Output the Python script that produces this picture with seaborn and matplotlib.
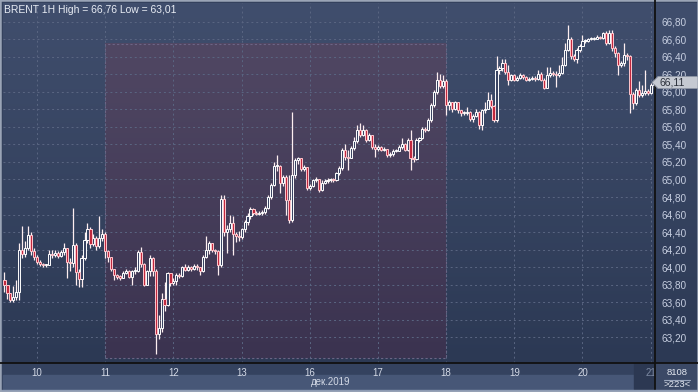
import numpy as np
import pandas as pd
import matplotlib
matplotlib.use("Agg")
import matplotlib.pyplot as plt
import matplotlib.transforms as mtransforms
from matplotlib.patches import Rectangle, Polygon
import seaborn as sns

# BRENT 1H candles (open = previous close)
first_open = 63.85
close = [63.80, 63.70, 63.62, 63.66, 63.72, 64.19, 64.15, 64.22, 64.37, 64.18,
         64.12, 64.06, 64.03, 64.02, 64.02, 64.15, 64.14, 64.16, 64.13, 64.17,
         64.22, 64.06, 64.05, 64.25, 63.94, 63.86, 64.10, 64.31, 64.44, 64.26,
         64.33, 64.24, 64.33, 64.38, 64.18, 64.12, 63.98, 63.91, 63.89, 63.88,
         63.93, 63.96, 63.89, 63.95, 63.96, 64.17, 64.03, 63.80, 63.95, 64.10,
         63.95, 63.24, 63.30, 63.64, 63.57, 63.93, 63.82, 63.84, 63.91, 63.90,
         64.00, 63.97, 64.00, 63.98, 64.01, 64.00, 63.95, 64.12, 64.19, 64.27,
         64.19, 64.18, 64.02, 64.78, 64.40, 64.44, 64.50, 64.38, 64.36, 64.34,
         64.43, 64.52, 64.58, 64.66, 64.62, 64.61, 64.62, 64.63, 64.68, 64.80,
         64.94, 65.15, 65.15, 64.96, 65.03, 64.77, 64.54, 65.05, 65.22, 65.24,
         65.12, 65.14, 64.90, 64.93, 64.99, 65.00, 64.88, 64.96, 64.98, 64.99,
         65.00, 64.99, 65.07, 65.13, 65.34, 65.26, 65.25, 65.36, 65.44, 65.57,
         65.51, 65.57, 65.45, 65.51, 65.37, 65.35, 65.37, 65.34, 65.35, 65.28,
         65.29, 65.33, 65.33, 65.37, 65.41, 65.34, 65.45, 65.24, 65.23, 65.45,
         65.47, 65.58, 65.56, 65.68, 65.85, 66.00, 66.14, 66.07, 66.12, 65.85,
         65.89, 65.80, 65.88, 65.79, 65.76, 65.76, 65.77, 65.69, 65.73, 65.77,
         65.62, 65.79, 65.81, 65.91, 65.84, 65.68, 66.25, 66.27, 66.33, 66.23,
         66.14, 66.19, 66.14, 66.16, 66.19, 66.17, 66.14, 66.15, 66.16, 66.15,
         66.21, 66.14, 66.05, 66.19, 66.22, 66.20, 66.19, 66.22, 66.31, 66.48,
         66.60, 66.41, 66.38, 66.48, 66.53, 66.58, 66.58, 66.60, 66.61, 66.61,
         66.63, 66.62, 66.67, 66.56, 66.67, 66.50, 66.45, 66.31, 66.33, 66.42,
         66.41, 65.98, 65.87, 66.02, 65.97, 65.99, 66.01, 65.99, 66.08, 66.11]
high = [63.94, 63.80, 63.70, 63.78, 63.85, 64.27, 64.47, 64.30, 64.47, 64.40,
        64.22, 64.14, 64.08, 64.05, 64.04, 64.19, 64.19, 64.19, 64.18, 64.20,
        64.27, 64.22, 64.10, 64.68, 64.27, 63.98, 64.14, 64.40, 64.50, 64.46,
        64.38, 64.36, 64.58, 64.44, 64.40, 64.19, 64.12, 63.98, 63.92, 63.91,
        63.95, 63.98, 63.97, 63.97, 64.00, 64.19, 64.23, 64.05, 63.97, 64.14,
        64.12, 63.98, 63.45, 63.70, 63.83, 63.94, 63.93, 63.87, 63.93, 63.93,
        64.01, 64.03, 64.02, 64.01, 64.03, 64.03, 64.00, 64.14, 64.35, 64.30,
        64.28, 64.21, 64.19, 64.82, 64.82, 64.48, 64.59, 64.58, 64.40, 64.41,
        64.45, 64.54, 64.62, 64.69, 64.67, 64.64, 64.64, 64.65, 64.70, 64.82,
        64.96, 65.20, 65.28, 65.17, 65.05, 65.05, 65.05, 65.77, 65.24, 65.26,
        65.25, 65.16, 65.14, 64.95, 65.00, 65.03, 65.00, 64.99, 65.00, 65.02,
        65.02, 65.02, 65.08, 65.15, 65.36, 65.41, 65.34, 65.38, 65.49, 65.62,
        65.64, 65.62, 65.58, 65.53, 65.51, 65.40, 65.39, 65.38, 65.37, 65.35,
        65.31, 65.35, 65.35, 65.39, 65.47, 65.42, 65.47, 65.56, 65.27, 65.47,
        65.49, 65.60, 65.60, 65.70, 65.87, 66.02, 66.23, 66.21, 66.19, 66.15,
        65.91, 65.88, 65.90, 65.88, 65.79, 65.78, 65.83, 65.78, 65.75, 65.81,
        65.78, 65.81, 65.89, 66.00, 65.98, 65.85, 66.41, 66.30, 66.38, 66.38,
        66.31, 66.21, 66.20, 66.18, 66.22, 66.20, 66.18, 66.17, 66.18, 66.18,
        66.25, 66.23, 66.16, 66.29, 66.29, 66.24, 66.24, 66.31, 66.40, 66.56,
        66.77, 66.63, 66.43, 66.50, 66.55, 66.65, 66.61, 66.62, 66.63, 66.63,
        66.65, 66.64, 66.69, 66.70, 66.71, 66.71, 66.53, 66.46, 66.35, 66.56,
        66.44, 66.42, 66.00, 66.04, 66.12, 66.08, 66.25, 66.03, 66.10, 66.14]
low = [63.72, 63.64, 63.60, 63.60, 63.62, 63.62, 64.10, 64.12, 64.20, 64.14,
       64.08, 64.03, 64.01, 64.00, 64.00, 64.02, 64.10, 64.12, 64.10, 64.12,
       64.14, 63.87, 63.95, 64.00, 63.79, 63.77, 63.77, 64.08, 64.28, 64.22,
       64.24, 64.20, 64.22, 64.30, 64.10, 64.06, 63.96, 63.85, 63.86, 63.85,
       63.87, 63.92, 63.87, 63.79, 63.92, 63.94, 64.00, 63.78, 63.79, 63.90,
       63.90, 63.01, 63.18, 63.26, 63.50, 63.56, 63.78, 63.80, 63.79, 63.88,
       63.89, 63.95, 63.96, 63.96, 63.97, 63.97, 63.91, 63.94, 64.10, 64.15,
       64.17, 64.15, 63.91, 64.00, 64.36, 64.16, 64.40, 64.14, 64.29, 64.30,
       64.32, 64.40, 64.48, 64.55, 64.60, 64.59, 64.60, 64.60, 64.61, 64.66,
       64.78, 64.93, 65.10, 64.85, 64.93, 64.59, 64.50, 64.52, 65.02, 65.18,
       65.10, 65.10, 64.88, 64.88, 64.91, 64.97, 64.86, 64.87, 64.95, 64.96,
       64.97, 64.97, 64.98, 65.05, 65.11, 65.22, 65.11, 65.24, 65.34, 65.42,
       65.49, 65.50, 65.43, 65.44, 65.35, 65.26, 65.33, 65.32, 65.32, 65.26,
       65.26, 65.27, 65.31, 65.32, 65.35, 65.32, 65.33, 65.11, 65.20, 65.22,
       65.43, 65.46, 65.54, 65.55, 65.66, 65.83, 65.98, 66.04, 66.05, 65.74,
       65.79, 65.77, 65.79, 65.76, 65.72, 65.74, 65.74, 65.67, 65.66, 65.71,
       65.58, 65.57, 65.76, 65.80, 65.82, 65.66, 65.66, 66.21, 66.24, 66.21,
       66.08, 66.12, 66.12, 66.13, 66.15, 66.15, 66.12, 66.13, 66.14, 66.13,
       66.14, 66.12, 66.03, 66.04, 66.17, 66.18, 66.06, 66.17, 66.20, 66.30,
       66.47, 66.38, 66.35, 66.33, 66.46, 66.52, 66.56, 66.57, 66.59, 66.59,
       66.60, 66.60, 66.61, 66.54, 66.55, 66.47, 66.40, 66.19, 66.28, 66.30,
       66.37, 65.76, 65.80, 65.85, 65.94, 65.94, 65.97, 65.96, 65.98, 66.05]

day_labels = ["10", "11", "12", "13", "16", "17", "18", "19", "20", "21"]
day_pos = [11, 34, 57, 80, 103, 126, 149, 172, 195, 218]
price_ticks = [63.2, 63.4, 63.6, 63.8, 64.0, 64.2, 64.4, 64.6, 64.8,
               65.0, 65.2, 65.4, 65.6, 65.8, 66.0, 66.2, 66.4, 66.6, 66.8]
zone_start, zone_end = 34, 149
zone_low, zone_high = 62.96, 66.55
last_price = 66.11
title = "BRENT 1H High = 66,76 Low = 63,01"
month_label = "дек.2019"

df = pd.DataFrame({"close": close, "high": high, "low": low})
df["open"] = [first_open] + close[:-1]
df["idx"] = np.arange(len(df))

sns.set_theme(style="dark")
plt.rcParams["font.family"] = ["Liberation Sans", "DejaVu Sans"]

W, H = 698, 392
fig = plt.figure(figsize=(W / 100, H / 100), dpi=100, facecolor="#34415d")


def gradient(ax, top, bot, extent, transform, z):
    g = np.linspace(0, 1, 256)[:, None, None]
    t = np.array(matplotlib.colors.to_rgb(top))[None, None, :]
    b = np.array(matplotlib.colors.to_rgb(bot))[None, None, :]
    ax.imshow(t + (b - t) * g, extent=extent, transform=transform,
              aspect="auto", zorder=z, interpolation="bilinear")


# right price panel background
pan = fig.add_axes([655 / W, 29 / H, 43 / W, 360 / H], zorder=0)
pan.axis("off")
gradient(pan, "#404e6d", "#2c3954", [0, 1, 0, 1], pan.transAxes, 0)
pan.set_xlim(0, 1)
pan.set_ylim(0, 1)

# main chart
ax = fig.add_axes([3 / W, 29 / H, 652 / W, 360 / H], zorder=1)
ax.patch.set_visible(False)
gradient(ax, "#404e6d", "#2c3954", [0, 1, 0, 1], ax.transAxes, 0)
gradient(ax, "#504763", "#3b3350", [zone_start, zone_end, zone_low, zone_high],
         ax.transData, 0.5)
ax.add_patch(Rectangle((zone_start, zone_low), zone_end - zone_start,
                       zone_high - zone_low, fill=False, ec="#6c6485",
                       lw=0.8, ls=(0, (2, 2)), zorder=0.6))

for p in price_ticks:
    ax.axhline(p, color="#5a6682", lw=0.7, ls=(0, (2, 3)), zorder=0.7)
for d in day_pos:
    ax.axvline(d, color="#5a6682", lw=0.7, ls=(0, (2, 3)), zorder=0.7)

up = df[df["close"] >= df["open"]]
dn = df[df["close"] < df["open"]]
ax.vlines(df["idx"], df["low"], df["high"], color="#fdeef0", lw=0.9, zorder=2)
for part, fill, edge in [(up, "#3a4463", "#ffffff"), (dn, "#c0283e", "#ffc6cc")]:
    lo = np.minimum(part["open"], part["close"])
    hgt = np.maximum((part["open"] - part["close"]).abs(), 0.012)
    ax.bar(part["idx"], hgt, bottom=lo, width=0.72, color=fill,
           edgecolor=edge, linewidth=0.7, zorder=3)

ax.set_xlim(-0.5, 219.47)
ax.set_ylim(62.903, 67.017)
ax.yaxis.tick_right()
ax.set_yticks(price_ticks)
ax.set_yticklabels([f"{p:.2f}".replace(".", ",") for p in price_ticks])
ax.tick_params(axis="y", length=0, pad=5, labelsize=7.2, labelcolor="#c6cee0")
ax.set_xticks([])
for s in ax.spines.values():
    s.set_visible(False)

# bottom date strip
strip = fig.add_axes([0, 0, 1, 29 / H], zorder=0)
strip.axis("off")
strip.set_xlim(0, W)
strip.set_ylim(29, 0)
strip.add_patch(Rectangle((0, 0), W, 29, color="#34425f"))
strip.add_patch(Rectangle((3, 12), 652, 14, color="#475777"))
strip.add_patch(Rectangle((634, 0), 21, 26, color="#2c3852"))
strip.add_patch(Rectangle((655, 0), 43, 29, color="#3b4966"))
strip.add_patch(Rectangle((0, 26.5), W, 3, color="#8d9ab2"))
strip.plot([664, 690], [16.5, 16.5], color="#9aa6bd", lw=0.8)
strip.text(677, 9.5, "8108", color="#e4e8f0", fontsize=6.8, ha="center", va="center")
strip.text(677, 21.5, ">223<", color="#e4e8f0", fontsize=6.8, ha="center", va="center")

trans = mtransforms.blended_transform_factory(ax.transData, ax.transAxes)
for d, lab in zip(day_pos, day_labels):
    col = "#7d8aa3" if lab == "21" else "#d3d9e6"
    ax.text(d, -10 / 360, lab, transform=trans, color=col, fontsize=7,
            ha="center", va="center", clip_on=False)
fig.text(331 / W, 1 - 382 / H, month_label, color="#d3d9e6", fontsize=7,
         ha="center", va="center")

# frame lines
fig.add_artist(plt.Line2D([0, 1], [29 / H, 29 / H], color="#111111", lw=1.3))
fig.add_artist(plt.Line2D([655 / W, 655 / W], [3 / H, 1], color="#111111", lw=1.3))
fig.add_artist(Rectangle((0, 0), 1, 1, transform=fig.transFigure, fill=False,
                         ec="#9aa4b6", lw=1.8))

# last price tag
ty = 1 - 82.5 / H
tag = Polygon([(652 / W, ty), (658 / W, ty + 6 / H), (698 / W, ty + 6 / H),
               (698 / W, ty - 6 / H), (658 / W, ty - 6 / H)],
              closed=True, transform=fig.transFigure, fc="#c5c9d2",
              ec="#8e95a5", lw=0.6, zorder=5)
fig.add_artist(tag)
fig.text(660 / W, ty, f"{last_price:.2f}".replace(".", ","), color="#2a2f3a",
         fontsize=7.5, va="center", ha="left", zorder=6)

fig.text(4 / W, 1 - 10 / H, title, color="#e9edf5", fontsize=7.5,
         va="center", ha="left")

fig.savefig("out.png", dpi=100, facecolor=fig.get_facecolor())
